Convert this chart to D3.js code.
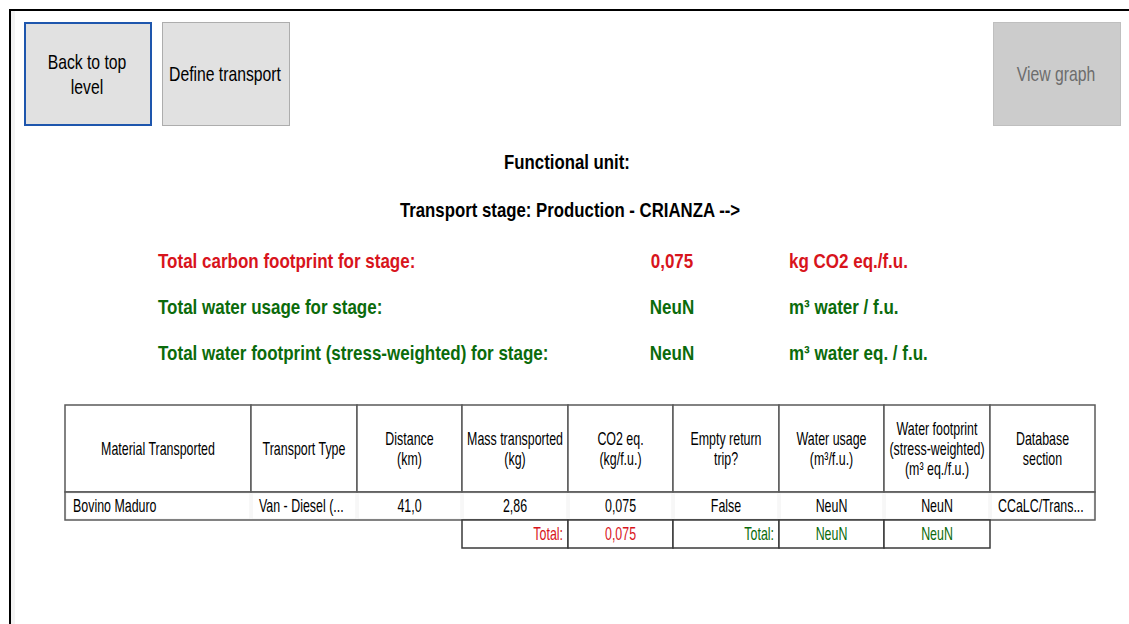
<!DOCTYPE html>
<html>
<head>
<meta charset="utf-8">
<script src="https://cdn.jsdelivr.net/npm/d3@7"></script>
<style>
  body { margin: 0; background: #fff; }
  svg { display: block; }
  text { font-family: "Liberation Sans", Arial, sans-serif; }
</style>
</head>
<body>
<div id="chart"></div>
<script>
// buttons along the top
const buttons = [
  { id: "back", lines: ["Back to top", "level"], state: "focus" },
  { id: "define", lines: ["Define transport"], state: "normal" },
  { id: "graph", lines: ["View graph"], state: "disabled" }
];

const headingLines = ["Functional unit:", "Transport stage: Production - CRIANZA -->"];

const summaryLabels = [
  "Total carbon footprint for stage:",
  "Total water usage for stage:",
  "Total water footprint (stress-weighted) for stage:"
];
const summaryValues = ["0,075", "NeuN", "NeuN"];
const summaryUnits = ["kg CO2 eq./f.u.", "m³ water / f.u.", "m³ water eq. / f.u."];
const summaryKinds = ["carbon", "water", "water"];

const columns = [
  ["Material Transported"],
  ["Transport Type"],
  ["Distance", "(km)"],
  ["Mass transported", "(kg)"],
  ["CO2 eq.", "(kg/f.u.)"],
  ["Empty return", "trip?"],
  ["Water usage", "(m³/f.u.)"],
  ["Water footprint", "(stress-weighted)", "(m³ eq./f.u.)"],
  ["Database", "section"]
];
const columnWeights = [186, 106, 105, 106, 105, 106, 105, 106, 105];
const rows = [
  ["Bovino Maduro", "Van - Diesel (...", "41,0", "2,86", "0,075", "False", "NeuN", "NeuN", "CCaLC/Trans..."]
];
const rowAlign = ["start", "start", "middle", "middle", "middle", "middle", "middle", "middle", "start"];
// totals row: column index, text, kind, alignment
const totals = [
  { col: 3, text: "Total:", kind: "carbon", align: "end" },
  { col: 4, text: "0,075", kind: "carbon", align: "middle" },
  { col: 5, text: "Total:", kind: "water", align: "end" },
  { col: 6, text: "NeuN", kind: "water", align: "middle" },
  { col: 7, text: "NeuN", kind: "water", align: "middle" }
];

const W = 1129, H = 624;
const colour = { carbon: "#d8141c", water: "#0b6b0b" };
// size + horizontal squeeze per text role (the original uses a condensed face)
const font = {
  button: { size: 21, k: 0.75 },
  heading: { size: 20, k: 0.84 },
  summary: { size: 20, k: 0.85 },
  cell: { size: 18, k: 0.69 }
};

const svg = d3.select("#chart").append("svg").attr("width", W).attr("height", H);

function label(parent, x, y, txt, role, opts) {
  const o = Object.assign({ anchor: "start", fill: "#000", bold: false }, opts);
  const f = font[role];
  return parent.append("text")
    .attr("transform", `translate(${x},${y}) scale(${f.k},1)`)
    .attr("dy", "0.35em").attr("text-anchor", o.anchor)
    .attr("font-size", f.size).attr("font-weight", o.bold ? "bold" : null)
    .attr("fill", o.fill).text(txt);
}

// window frame (top and left edges)
svg.append("line").attr("x1", 9).attr("x2", W).attr("y1", 10).attr("y2", 10).attr("stroke", "#000").attr("stroke-width", 2);
svg.append("line").attr("x1", 10).attr("x2", 10).attr("y1", 9).attr("y2", H).attr("stroke", "#000").attr("stroke-width", 2);
svg.append("rect").attr("x", 11).attr("y", 11).attr("width", 4).attr("height", H).attr("fill", "#f3f3f3");

// buttons
const btnX = d3.scaleOrdinal().domain(buttons.map(b => b.id)).range([24, 162, 993]);
const btnStyle = {
  focus: { fill: "#e1e1e1", stroke: "#1e56ad", sw: 2, text: "#000" },
  normal: { fill: "#e1e1e1", stroke: "#adadad", sw: 1, text: "#000" },
  disabled: { fill: "#cccccc", stroke: "#bfbfbf", sw: 1, text: "#6d6d6d" }
};
const btn = svg.selectAll("g.button").data(buttons).join("g")
  .attr("class", "button")
  .attr("transform", d => `translate(${btnX(d.id)},22)`);
btn.append("rect")
  .attr("x", d => btnStyle[d.state].sw / 2).attr("y", d => btnStyle[d.state].sw / 2)
  .attr("width", d => 128 - btnStyle[d.state].sw).attr("height", d => 104 - btnStyle[d.state].sw)
  .attr("fill", d => btnStyle[d.state].fill)
  .attr("stroke", d => btnStyle[d.state].stroke)
  .attr("stroke-width", d => btnStyle[d.state].sw);
btn.each(function(d) {
  const g = d3.select(this);
  const n = d.lines.length;
  d.lines.forEach((l, i) => {
    label(g, 63, 52 + (i - (n - 1) / 2) * 25, l, "button", { anchor: "middle", fill: btnStyle[d.state].text });
  });
});

// headings
headingLines.forEach((h, i) => {
  label(svg, i ? 570 : 567, 162 + i * 48, h, "heading", { anchor: "middle", bold: true });
});

// summary rows
const sumY = d3.scalePoint().domain(d3.range(summaryLabels.length)).range([261, 353]);
summaryLabels.forEach((s, i) => {
  const c = colour[summaryKinds[i]];
  label(svg, 158, sumY(i), s, "summary", { bold: true, fill: c });
  label(svg, 672, sumY(i), summaryValues[i], "summary", { bold: true, fill: c, anchor: "middle" });
  label(svg, 789, sumY(i), summaryUnits[i], "summary", { bold: true, fill: c });
});

// table
const tableX0 = 65, tableX1 = 1095;
const edges = [0, ...Array.from(d3.cumsum(columnWeights))];
const x = d3.scaleLinear().domain([0, edges[edges.length - 1]]).range([tableX0, tableX1]);
const colLeft = i => x(edges[i]);
const colRight = i => x(edges[i + 1]);
const headTop = 405, headBot = 492, rowH = 28;

const table = svg.append("g").attr("class", "table");

// header cells
columns.forEach((lines, i) => {
  table.append("rect").attr("x", colLeft(i)).attr("y", headTop)
    .attr("width", colRight(i) - colLeft(i)).attr("height", headBot - headTop)
    .attr("fill", "#fff").attr("stroke", "#5a5a5a").attr("stroke-width", 1.5);
  const cx = (colLeft(i) + colRight(i)) / 2;
  const cy = (headTop + headBot) / 2;
  lines.forEach((l, j) => {
    label(table, cx, cy + (j - (lines.length - 1) / 2) * 20, l, "cell", { anchor: "middle" });
  });
});

// data rows
rows.forEach((r, ri) => {
  const top = headBot + ri * rowH;
  r.forEach((v, i) => {
    table.append("rect").attr("x", colLeft(i) + 1).attr("y", top + 1)
      .attr("width", colRight(i) - colLeft(i) - 2).attr("height", rowH - 2)
      .attr("fill", "#fff").attr("stroke", "#f0f0f0").attr("stroke-width", 1);
    const a = rowAlign[i];
    const tx = a === "start" ? colLeft(i) + 8 : a === "end" ? colRight(i) - 6 : (colLeft(i) + colRight(i)) / 2;
    label(table, tx, top + rowH / 2, v, "cell", { anchor: a });
  });
  table.append("rect").attr("x", tableX0).attr("y", top)
    .attr("width", tableX1 - tableX0).attr("height", rowH)
    .attr("fill", "none").attr("stroke", "#5a5a5a").attr("stroke-width", 1.5);
});

// totals row
const totTop = headBot + rows.length * rowH;
totals.forEach(t => {
  const i = t.col;
  table.append("rect").attr("x", colLeft(i)).attr("y", totTop)
    .attr("width", colRight(i) - colLeft(i)).attr("height", rowH)
    .attr("fill", "#fff").attr("stroke", "#3a3a3a").attr("stroke-width", 1.5);
  const tx = t.align === "end" ? colRight(i) - 5 : (colLeft(i) + colRight(i)) / 2;
  label(table, tx, totTop + rowH / 2, t.text, "cell", { anchor: t.align, fill: colour[t.kind] });
});
</script>
</body>
</html>
